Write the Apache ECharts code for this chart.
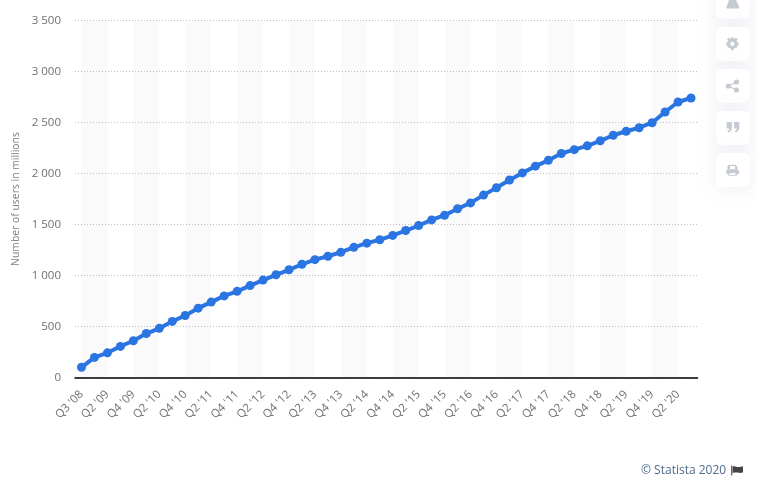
<!DOCTYPE html>
<html><head><meta charset="utf-8">
<style>html,body{margin:0;padding:0;background:#fff}#c{width:757px;height:486px}</style>
<script src="https://cdn.jsdelivr.net/npm/echarts@6/dist/echarts.min.js"></script>
</head><body><div id="c"></div>
<script>
const categories = ["Q3 '08","Q1 '09","Q2 '09","Q3 '09","Q4 '09","Q1 '10","Q2 '10","Q3 '10","Q4 '10","Q1 '11","Q2 '11","Q3 '11","Q4 '11","Q1 '12","Q2 '12","Q3 '12","Q4 '12","Q1 '13","Q2 '13","Q3 '13","Q4 '13","Q1 '14","Q2 '14","Q3 '14","Q4 '14","Q1 '15","Q2 '15","Q3 '15","Q4 '15","Q1 '16","Q2 '16","Q3 '16","Q4 '16","Q1 '17","Q2 '17","Q3 '17","Q4 '17","Q1 '18","Q2 '18","Q3 '18","Q4 '18","Q1 '19","Q2 '19","Q3 '19","Q4 '19","Q1 '20","Q2 '20","Q3 '20"];
const users = [100,197,242,305,360,431,482,550,608,680,739,800,845,901,955,1007,1056,1110,1155,1189,1228,1276,1317,1350,1393,1441,1490,1545,1591,1654,1712,1788,1860,1936,2006,2072,2129,2196,2234,2271,2320,2375,2414,2449,2498,2603,2701,2740];
const yTitle = "Number of users in millions";
const credit = "© Statista 2020";
const bands = [];
for (let i = 0; i + 2 < categories.length; i += 4) bands.push([{xAxis: categories[i]}, {xAxis: categories[i + 2]}]);

let shapeId = 0;
const pathEl = (d, style, z) => {
  const name = 'iconShape' + (shapeId++);
  echarts.graphic.registerShape(name, echarts.graphic.extendPath(d, {}));
  return {type:name, style:style, z:z, silent:true};
};
const btn = (y) => ({type:'rect', shape:{x:716,y:y,width:34,height:34,r:6}, style:{fill:'#fff',shadowBlur:22,shadowColor:'rgba(90,110,160,0.12)',shadowOffsetY:1}, z:2, silent:true});
const ic = '#c5cad3';
const icons = [
 pathEl('M729 0 L736 0 L737.5 3 L739 6.5 L739 8.5 L726.5 8.5 L726.5 6.5 L728 3 Z', {fill:ic}, 3),
 pathEl('M731 37.6h2.8v12.6h-2.8z M726.1 42.5h12.6v2.8h-12.6z M727 39.4l2-2 8.8 8.8-2 2z M735.8 37.4l2 2-8.8 8.8-2-2z', {fill:ic}, 3),
 {type:'circle', shape:{cx:732.4,cy:43.9,r:5}, style:{fill:ic}, z:3, silent:true},
 {type:'circle', shape:{cx:732.4,cy:43.9,r:2.1}, style:{fill:'#fff'}, z:4, silent:true},
 {type:'circle', shape:{cx:728.3,cy:86,r:2.6}, style:{fill:ic}, z:3, silent:true},
 {type:'circle', shape:{cx:736.5,cy:82,r:2.6}, style:{fill:ic}, z:3, silent:true},
 {type:'circle', shape:{cx:736.5,cy:90,r:2.6}, style:{fill:ic}, z:3, silent:true},
 {type:'polyline', shape:{points:[[736.5,82],[728.3,86],[736.5,90]]}, style:{stroke:ic,lineWidth:1.3,fill:null}, z:3, silent:true},
 pathEl('M726.7 122h5.2v5.5c0 2.5-1.2 4-3.6 5l-0.8-1.5c1.2-.6 1.8-1.3 1.9-2.5h-2.7z M734.1 122h5.2v5.5c0 2.5-1.2 4-3.6 5l-.8-1.5c1.2-.6 1.8-1.3 1.9-2.5h-2.7z', {fill:ic}, 3),
 pathEl('M729 164.8h6.5l2 2v3h-10v-3.5z M726.3 170h12.6v4h-2v1.8h-8.6v-1.8h-2z', {fill:ic}, 3),
 {type:'rect', shape:{x:730,y:166,width:5,height:3}, style:{fill:'#fff'}, z:4, silent:true},
 {type:'rect', shape:{x:729.5,y:173,width:6,height:1.8}, style:{fill:'#fff'}, z:4, silent:true}
];

const chart = echarts.init(document.getElementById('c'), null, {renderer:'canvas'});
chart.setOption({
  animation:false,
  grid:{left:75,right:59.5,top:20.5,bottom:108.5,containLabel:false},
  xAxis:{type:'category',data:categories,boundaryGap:true,
    axisLine:{lineStyle:{color:'#000',width:1.5}},axisTick:{show:false},
    axisLabel:{interval:1,rotate:45,color:'#707070',fontFamily:'Open Sans',fontSize:11.5,margin:15}},
  yAxis:{type:'value',min:0,max:3500,interval:500,
    name:yTitle,nameLocation:'middle',nameGap:51,nameRotate:90,
    nameTextStyle:{color:'#808080',fontFamily:'Open Sans',fontSize:10.4},
    axisLine:{show:false},axisTick:{show:false},
    axisLabel:{color:'#707070',fontFamily:'Open Sans',fontSize:11.5,margin:14,padding:[7,0,0,0],
      formatter:v=>String(v).replace(/\B(?=(\d{3})+$)/g,' ')},
    splitLine:{lineStyle:{color:'#c0c0c0',type:[1,2],width:1}}},
  series:[{type:'line',data:users,smooth:false,symbol:'circle',symbolSize:9,showSymbol:true,showAllSymbol:true,
    lineStyle:{color:'#2a75e1',width:4},itemStyle:{color:'#2a75e1'},
    markArea:{silent:true,itemStyle:{color:'rgba(0,0,0,0.02)'},data:bands},z:5}],
  graphic:[
    ...[-15,27,69,111,153].map(btn),
    ...icons,
    {type:'text',x:641,y:465,style:{text:credit,fill:'#4f6b8c',font:'12px "Open Sans"'},z:3,silent:true},
    pathEl('M731.2 465.5h1v10h-1z M732.6 466.5c3-1 4 1 6 .5 1 0 3-.5 4.4-.5v6c-3 1-6 0-7 0s-2 0-3.4 .5z', {fill:'#444'}, 3)
  ]
});
</script></body></html>
